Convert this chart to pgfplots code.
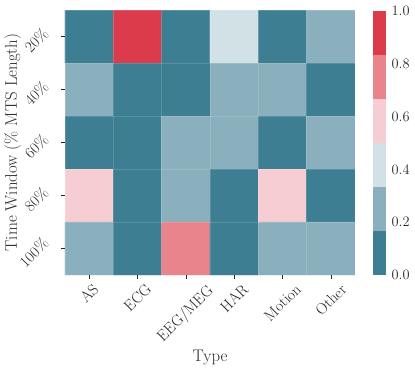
\documentclass[border=0pt]{standalone}
\usepackage{graphicx}
\usepackage{pgfplots}
\pgfplotsset{compat=1.18}
\definecolor{cA}{RGB}{61,126,146}
\definecolor{cB}{RGB}{138,176,189}
\definecolor{cC}{RGB}{210,225,230}
\definecolor{cD}{RGB}{245,205,211}
\definecolor{cE}{RGB}{232,132,140}
\definecolor{cF}{RGB}{219,59,74}
\definecolor{txt}{RGB}{40,40,40}
\newcommand{\fs}{\fontsize{15.5}{18}\selectfont}
\newcommand{\fl}{\fontsize{16.8}{19}\selectfont}
\newcommand{\rb}[1]{\rotatebox{45}{#1}}

\begin{document}
\begin{tikzpicture}
\useasboundingbox (-65pt,-94pt) rectangle (350pt,275pt);
\begin{axis}[
  at={(0,0)},anchor=south west,
  width=290pt,height=265pt,scale only axis,
  xmin=-0.5,xmax=5.5,ymin=-0.5,ymax=4.5,
  y dir=reverse,
  enlargelimits=false,
  axis line style={draw=none},
  axis on top,
  xtick={0,...,5},
  xticklabels={\rb{AS},\rb{ECG},\rb{EEG/MEG},\rb{HAR},\rb{Motion},\rb{Other}},
  ytick={0,...,4},
  yticklabels={\rb{20\%},\rb{40\%},\rb{60\%},\rb{80\%},\rb{100\%}},
  minor xtick={-0.5,0.5,...,5.5},
  minor ytick={-0.5,0.5,...,4.5},
  minor tick length=0pt,
  minor grid style={white,opacity=0.15,line width=0.5pt},
  grid=minor,
  xtick pos=bottom, ytick pos=left,
  tick align=outside, major tick length=3.5pt,
  major tick style={txt,line width=0.6pt},
  x tick label style={anchor=north,font=\fs,text=txt,yshift=-1pt},
  y tick label style={anchor=east,font=\fs,text=txt,xshift=-8pt,yshift=-4pt},
  xlabel={Type}, ylabel={Time Window (\% MTS Length)},
  label style={font=\fl,text=txt},
  x label style={at={(axis description cs:0.5,-0.31)},anchor=center},
  y label style={at={(axis description cs:-0.18,0.5)},anchor=center},
  colormap={div}{color=(cA) color=(cB) color=(cC) color=(cD) color=(cE) color=(cF)},
  colormap access=piecewise constant,
  point meta min=0, point meta max=1,
]
% rows: 20% .. 100%, columns: AS ECG EEG/MEG HAR Motion Other
\addplot[matrix plot*, mesh/cols=6, point meta=explicit] table[meta=v] {
x y v
0 0 0.08
1 0 0.92
2 0 0.08
3 0 0.42
4 0 0.08
5 0 0.25
0 1 0.25
1 1 0.08
2 1 0.08
3 1 0.25
4 1 0.25
5 1 0.08
0 2 0.08
1 2 0.08
2 2 0.25
3 2 0.25
4 2 0.08
5 2 0.25
0 3 0.58
1 3 0.08
2 3 0.25
3 3 0.08
4 3 0.58
5 3 0.08
0 4 0.25
1 4 0.08
2 4 0.75
3 4 0.08
4 4 0.25
5 4 0.25
};
\end{axis}
% colorbar
\begin{axis}[
  at={(308pt,0)},anchor=south west,
  width=13pt,height=264pt,scale only axis,
  xmin=0,xmax=1,ymin=0,ymax=1,
  axis line style={draw=none},
  xtick=\empty,
  ytick={0,0.2,0.4,0.6,0.8,1},
  yticklabel pos=right,
  major tick length=0pt,
  y tick label style={font=\fs,text=txt,xshift=2pt,/pgf/number format/.cd,fixed,fixed zerofill,precision=1},
]
\addplot[draw=none,fill=cA] coordinates {(0,0)(1,0)(1,0.1667)(0,0.1667)};
\addplot[draw=none,fill=cB] coordinates {(0,0.1667)(1,0.1667)(1,0.3333)(0,0.3333)};
\addplot[draw=none,fill=cC] coordinates {(0,0.3333)(1,0.3333)(1,0.5)(0,0.5)};
\addplot[draw=none,fill=cD] coordinates {(0,0.5)(1,0.5)(1,0.6667)(0,0.6667)};
\addplot[draw=none,fill=cE] coordinates {(0,0.6667)(1,0.6667)(1,0.8333)(0,0.8333)};
\addplot[draw=none,fill=cF] coordinates {(0,0.8333)(1,0.8333)(1,1)(0,1)};
\end{axis}
\end{tikzpicture}
\end{document}
